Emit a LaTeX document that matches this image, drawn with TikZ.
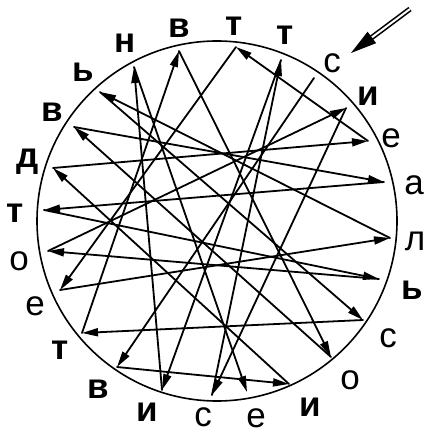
\documentclass[tikz,border=0pt]{standalone}
\usepackage{fontspec}
\setmainfont{Liberation Sans}
\usepackage{tkz-euclide}
\usetikzlibrary{calc, arrows.meta}

\tikzset{
  arr/.style={line width=1.8pt, -{Triangle[length=16pt,width=8pt]}},
  lt/.style={inner sep=0pt, font=\fontsize{35}{35}\selectfont},
  ltb/.style={inner sep=0pt, font=\fontsize{35}{35}\selectfont\bfseries},
}

\begin{document}
\begin{tikzpicture}[x=1pt,y=-1pt]
      \useasboundingbox (0,0) rectangle (426,435);
      % 1. 圓
      \tkzDefPoint(217,221){O}
      \draw[line width=1.6pt] (O) circle[radius=180];

      % 2. 圓內的端點 (從 c 開始順時針)
      \tkzDefPoint(314,78){P1}
      \tkzDefPoint(346,108){P2}
      \tkzDefPoint(368,141){P3}
      \tkzDefPoint(384,182){P4}
      \tkzDefPoint(390,238){P5}
      \tkzDefPoint(379,279){P6}
      \tkzDefPoint(363,320){P7}
      \tkzDefPoint(331,357){P8}
      \tkzDefPoint(289,384){P9}
      \tkzDefPoint(247,392){P10}
      \tkzDefPoint(212,395){P11}
      \tkzDefPoint(162,390){P12}
      \tkzDefPoint(117,367){P13}
      \tkzDefPoint(82,333){P14}
      \tkzDefPoint(60,290){P15}
      \tkzDefPoint(48,251){P16}
      \tkzDefPoint(44,210){P17}
      \tkzDefPoint(53,168){P18}
      \tkzDefPoint(74,127){P19}
      \tkzDefPoint(100,92){P20}
      \tkzDefPoint(134,67){P21}
      \tkzDefPoint(179,51){P22}
      \tkzDefPoint(236,47){P23}
      \tkzDefPoint(281,60){P24}

      % 3. 字母
      \node[lt]  (L1)  at (332,63)  {с};
      \node[ltb] (L2)  at (368,96)  {и};
      \node[lt]  (L3)  at (391,138) {е};
      \node[lt]  (L4)  at (414,185) {а};
      \node[lt]  (L5)  at (415,241) {л};
      \node[ltb] (L6)  at (412,290) {ь};
      \node[lt]  (L7)  at (388,338) {с};
      \node[lt]  (L8)  at (350,380) {о};
      \node[ltb] (L9)  at (310,407) {и};
      \node[lt]  (L10) at (256,418) {е};
      \node[lt]  (L11) at (203,417) {с};
      \node[ltb] (L12) at (147,412) {и};
      \node[ltb] (L13) at (98,389)  {в};
      \node[ltb] (L14) at (60,350)  {т};
      \node[lt]  (L15) at (35,306)  {е};
      \node[lt]  (L16) at (19,261)  {о};
      \node[ltb] (L17) at (15,213)  {т};
      \node[ltb] (L18) at (28,162)  {д};
      \node[ltb] (L19) at (52,112)  {в};
      \node[ltb] (L20) at (83,72)   {ь};
      \node[ltb] (L21) at (125,43)  {н};
      \node[ltb] (L22) at (179,28)  {в};
      \node[ltb] (L23) at (234,26)  {т};
      \node[ltb] (L24) at (285,35)  {т};

      % 4. 箭頭路徑
      \tkzDrawSegments[arr](P1,P13 P13,P9 P9,P18 P18,P3 P3,P23 P23,P15 P15,P5 P5,P20)
      \tkzDrawSegments[arr](P20,P7 P7,P14 P14,P22 P22,P8 P8,P19 P19,P4 P4,P17 P17,P6)
      \tkzDrawSegments[arr](P6,P16 P16,P2 P2,P11 P11,P24 P24,P12 P12,P21 P21,P10)

      % 5. 起點的箭頭
      \tkzDefPoint(410,9){Sa}
      \tkzDefPoint(351,53){St}
      \draw[double=white, double distance=2pt, line width=1.6pt, shorten >=22pt] (Sa) -- (St);
      \draw[line width=1pt, -{Triangle[length=26pt,width=14pt]}] ($(St)!26pt!(Sa)$) -- (St);
    \end{tikzpicture}
\end{document}
